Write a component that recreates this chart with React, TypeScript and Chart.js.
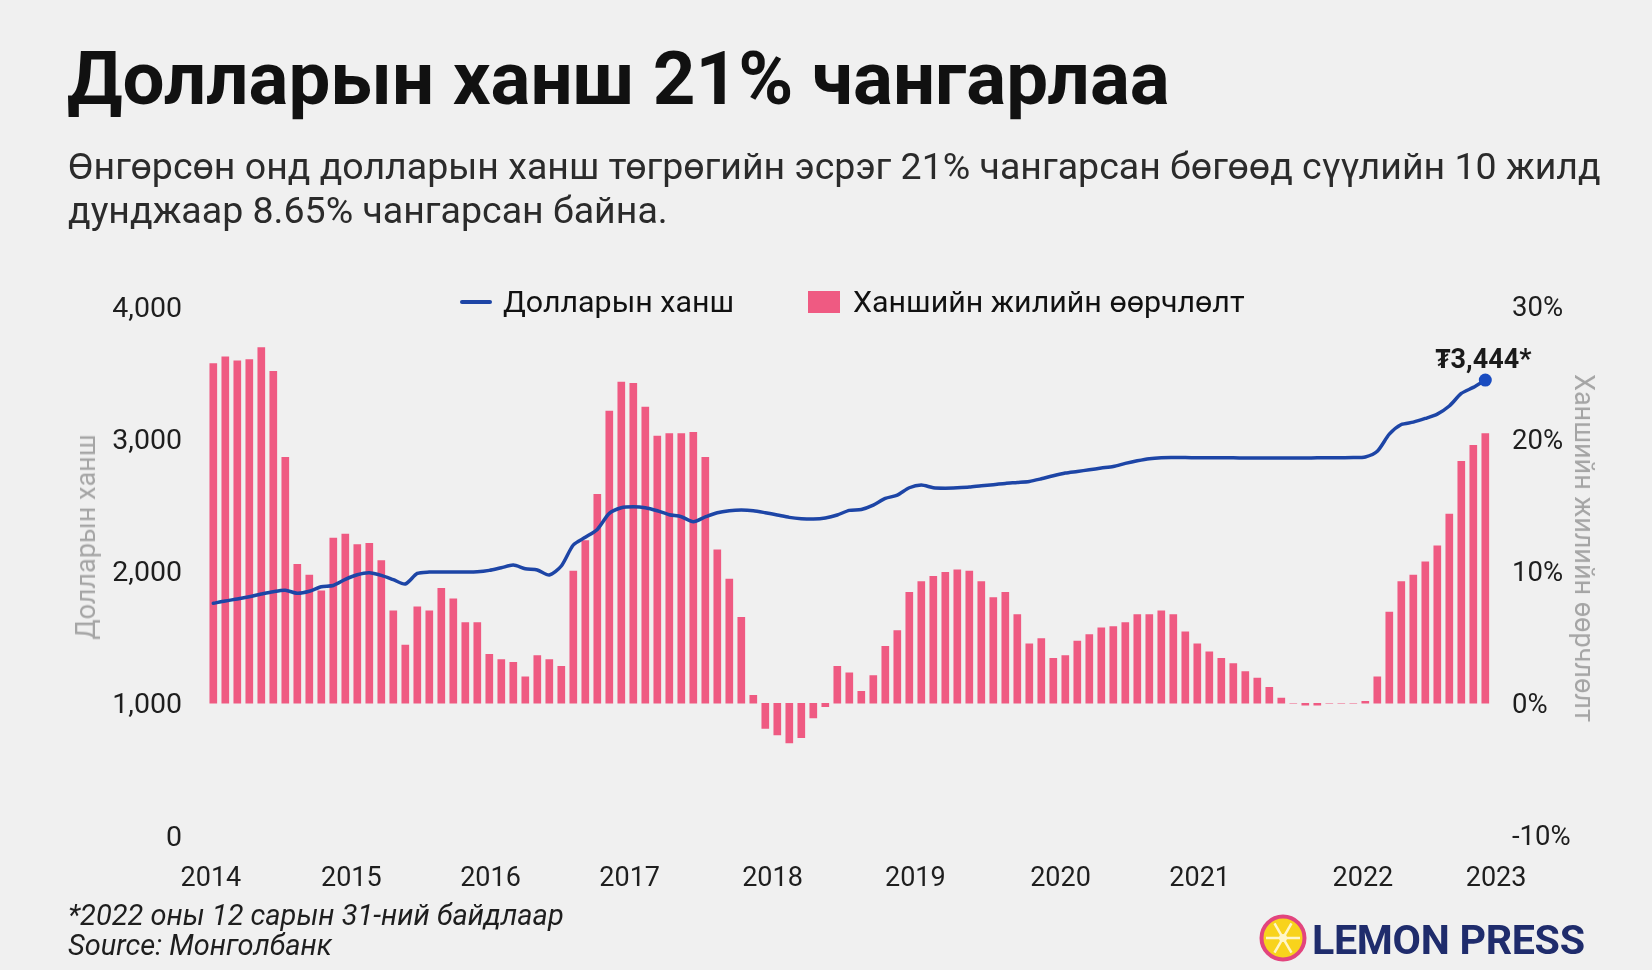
import React, { useEffect, useRef } from "react";
import { Chart, registerables } from "chart.js";

Chart.register(...registerables);

// ---------- DATA ----------
const yearLabels = ["2014", "2015", "2016", "2017", "2018", "2019", "2020", "2021", "2022", "2023"];
// month index (0 = first bar) at which each year label sits
const yearTickAt = [-0.2, 11.5, 23.1, 34.7, 46.6, 58.5, 70.6, 82.2, 95.8, 106.9];

// USD/MNT exchange rate, monthly
const rateMNT = [
  1756, 1774, 1789, 1806, 1826, 1844, 1854, 1832, 1847, 1881, 1891, 1937,
  1972, 1987, 1967, 1935, 1902, 1982, 1992, 1992, 1992, 1992, 1994, 2005,
  2025, 2045, 2017, 2008, 1970, 2038, 2197, 2255, 2315, 2436, 2479, 2486,
  2479, 2456, 2426, 2411, 2373, 2409, 2441, 2456, 2461, 2456, 2441, 2424,
  2406, 2396, 2393, 2401, 2424, 2459, 2466, 2499, 2549, 2574, 2630, 2650,
  2630, 2627, 2630, 2635, 2645, 2653, 2663, 2670, 2678, 2698, 2721, 2741,
  2753, 2766, 2779, 2791, 2814, 2834, 2850, 2857, 2858, 2858, 2857, 2857,
  2856, 2856, 2855, 2855, 2855, 2855, 2855, 2855, 2856, 2856, 2857, 2858,
  2863, 2906, 3035, 3108, 3126, 3154, 3187, 3248, 3343, 3389, 3444,
];

// year-over-year change of the rate, %
const yoyChangePct = [
  25.7, 26.2, 25.9, 26.0, 26.9, 25.1, 18.6, 10.5, 9.7, 8.5, 12.5, 12.8,
  12.0, 12.1, 10.8, 7.0, 4.4, 7.3, 7.0, 8.7, 7.9, 6.1, 6.1, 3.7,
  3.3, 3.1, 2.0, 3.6, 3.3, 2.8, 10.0, 12.3, 15.8, 22.1, 24.3, 24.2,
  22.4, 20.2, 20.4, 20.4, 20.5, 18.6, 11.6, 9.4, 6.5, 0.6, -1.9, -2.4,
  -3.0, -2.6, -1.1, -0.25, 2.8, 2.3, 0.9, 2.1, 4.3, 5.5, 8.4, 9.2,
  9.6, 9.9, 10.1, 10.0, 9.2, 8.0, 8.4, 6.7, 4.5, 4.9, 3.4, 3.6,
  4.7, 5.2, 5.7, 5.8, 6.1, 6.7, 6.7, 7.0, 6.7, 5.4, 4.5, 3.9,
  3.4, 3.0, 2.4, 1.9, 1.2, 0.4, 0, -0.15, -0.15, 0, 0, 0,
  0.15, 2.0, 6.9, 9.2, 9.7, 10.7, 11.9, 14.3, 18.3, 19.5, 20.4,
];

const lastRateLabel = "₮3,444*";

const TITLE = "Долларын ханш 21% чангарлаа";
const SUB1 = "Өнгөрсөн онд долларын ханш төгрөгийн эсрэг 21% чангарсан бөгөөд сүүлийн 10 жилд";
const SUB2 = "дунджаар 8.65% чангарсан байна.";
const LEGEND_LINE = "Долларын ханш";
const LEGEND_BAR = "Ханшийн жилийн өөрчлөлт";
const AXIS_LEFT = "Долларын ханш";
const AXIS_RIGHT = "Ханшийн жилийн өөрчлөлт";
const NOTE1 = "*2022 оны 12 сарын 31-ний байдлаар";
const NOTE2 = "Source: Монголбанк";

// ---------- STYLE ----------
const BG = "#f0f0f0";
const PINK = "#ef5a82";
const BLUE = "#1d45a6";
const FONT = "Roboto, 'Noto Sans', sans-serif";

const endLabelPlugin = {
  id: "endLabel",
  afterDatasetsDraw(chart: any) {
    const meta = chart.getDatasetMeta(0);
    const pt = meta.data[meta.data.length - 1];
    if (!pt) return;
    const ctx = chart.ctx;
    ctx.save();
    ctx.font = `bold 27px ${FONT}`;
    ctx.fillStyle = "#1a1a1a";
    ctx.textAlign = "center";
    ctx.textBaseline = "alphabetic";
    ctx.fillText(lastRateLabel, pt.x - 2, pt.y - 12);
    ctx.restore();
  },
};

export default function App() {
  const canvasRef = useRef<HTMLCanvasElement | null>(null);

  useEffect(() => {
    document.body.style.margin = "0";
    document.body.style.background = BG;
    const canvas = canvasRef.current;
    if (!canvas) return;
    Chart.defaults.font.family = FONT;
    const last = rateMNT.length - 1;
    const chart = new Chart(canvas, {
      type: "bar",
      data: {
        datasets: [
          {
            type: "line",
            label: LEGEND_LINE,
            data: rateMNT.map((v, i) => ({ x: i, y: v })),
            yAxisID: "y",
            borderColor: BLUE,
            backgroundColor: BLUE,
            borderWidth: 3.5,
            borderJoinStyle: "round",
            borderCapStyle: "round",
            tension: 0.25,
            pointRadius: (c: any) => (c.dataIndex === last ? 6.5 : 0),
            pointBackgroundColor: "#1a4cc0",
            pointBorderWidth: 0,
            order: 0,
          } as any,
          {
            type: "bar",
            label: LEGEND_BAR,
            data: yoyChangePct.map((v, i) => ({ x: i, y: v })),
            yAxisID: "y1",
            backgroundColor: PINK,
            barThickness: 7,
            order: 1,
          } as any,
        ],
      },
      options: {
        responsive: false,
        animation: false,
        events: [],
        layout: { padding: { top: 306.6, left: 0, right: 0, bottom: 0 } },
        plugins: { legend: { display: false }, tooltip: { enabled: false }, title: { display: false } },
        scales: {
          x: {
            type: "linear",
            min: -1.525,
            max: 107.225,
            offset: false,
            grid: { display: false, offset: false, drawTicks: false },
            border: { display: false },
            afterBuildTicks: (scale: any) => {
              scale.ticks = yearTickAt.map((v) => ({ value: v }));
            },
            afterFit: (scale: any) => {
              scale.height = 134.5;
            },
            ticks: {
              autoSkip: false,
              maxRotation: 0,
              padding: 28,
              color: "#1e1e1e",
              font: { size: 27 },
              callback: (_v: any, idx: number) => yearLabels[idx],
            },
          },
          y: {
            position: "left",
            min: 0,
            max: 4000,
            grid: { display: false, drawTicks: false },
            border: { display: false },
            afterFit: (scale: any) => {
              scale.width = 195;
            },
            ticks: {
              stepSize: 1000,
              padding: 13,
              labelOffset: 3,
              color: "#1e1e1e",
              font: { size: 28.5 },
              callback: (v: any) => Number(v).toLocaleString("en-US"),
            },
          },
          y1: {
            position: "right",
            min: -10,
            max: 30,
            grid: { display: false, drawTicks: false },
            border: { display: false },
            afterFit: (scale: any) => {
              scale.width = 152;
            },
            ticks: {
              stepSize: 10,
              padding: 12,
              labelOffset: 3,
              color: "#1e1e1e",
              font: { size: 27.5 },
              callback: (v: any) => `${v}%`,
            },
          },
        },
      } as any,
      plugins: [endLabelPlugin],
    });
    return () => chart.destroy();
  }, []);

  const abs: React.CSSProperties = { position: "absolute", whiteSpace: "nowrap", fontFamily: FONT };

  return (
    <div style={{ position: "relative", width: 1652, height: 970, background: BG, overflow: "hidden" }}>
      <canvas ref={canvasRef} width={1652} height={970} style={{ position: "absolute", left: 0, top: 0, width: 1652, height: 970 }} />

      <div style={{ ...abs, left: 67, top: 42, fontSize: 74.5, lineHeight: "74.5px", fontWeight: 700, color: "#111" }}>{TITLE}</div>
      <div style={{ ...abs, left: 68, top: 144, fontSize: 37.5, lineHeight: "44px", color: "#2b2b2b" }}>
        {SUB1}
        <br />
        {SUB2}
      </div>

      {/* legend */}
      <div style={{ ...abs, left: 460, top: 300, width: 32, height: 4, background: BLUE, borderRadius: 2 }} />
      <div style={{ ...abs, left: 503, top: 287, fontSize: 30.4, lineHeight: "30px", color: "#111" }}>{LEGEND_LINE}</div>
      <div style={{ ...abs, left: 808, top: 291, width: 32, height: 22, background: PINK }} />
      <div style={{ ...abs, left: 853, top: 287, fontSize: 30.4, lineHeight: "30px", color: "#111" }}>{LEGEND_BAR}</div>

      {/* axis titles */}
      <div style={{ ...abs, left: 86, top: 537, fontSize: 27, lineHeight: "30px", color: "#a5a5a5", transform: "translate(-50%, -50%) rotate(-90deg)" }}>{AXIS_LEFT}</div>
      <div style={{ ...abs, left: 1584, top: 548, fontSize: 27, lineHeight: "30px", color: "#a5a5a5", transform: "translate(-50%, -50%) rotate(90deg)" }}>{AXIS_RIGHT}</div>

      {/* footnote */}
      <div style={{ ...abs, left: 68, top: 901, fontSize: 29, lineHeight: "29.5px", fontStyle: "italic", color: "#1e1e1e" }}>
        {NOTE1}
        <br />
        {NOTE2}
      </div>

      {/* logo */}
      <svg style={{ position: "absolute", left: 1259, top: 914 }} width={48} height={48} viewBox="0 0 48 48">
        <circle cx={24} cy={24} r={21.5} fill="#f8d31c" stroke="#e2457e" strokeWidth={4} />
        {[0, 60, 120, 180, 240, 300].map((a) => (
          <line key={a} x1={24} y1={24} x2={24 + 17 * Math.cos((a * Math.PI) / 180)} y2={24 + 17 * Math.sin((a * Math.PI) / 180)} stroke="#fff6c8" strokeWidth={2.5} />
        ))}
        <circle cx={24} cy={24} r={4} fill="#fff6c8" />
      </svg>
      <div style={{ ...abs, left: 1312, top: 920, fontSize: 41.2, lineHeight: "41px", fontWeight: 700, color: "#1f2c6c", letterSpacing: -0.3 }}>LEMON PRESS</div>
    </div>
  );
}
